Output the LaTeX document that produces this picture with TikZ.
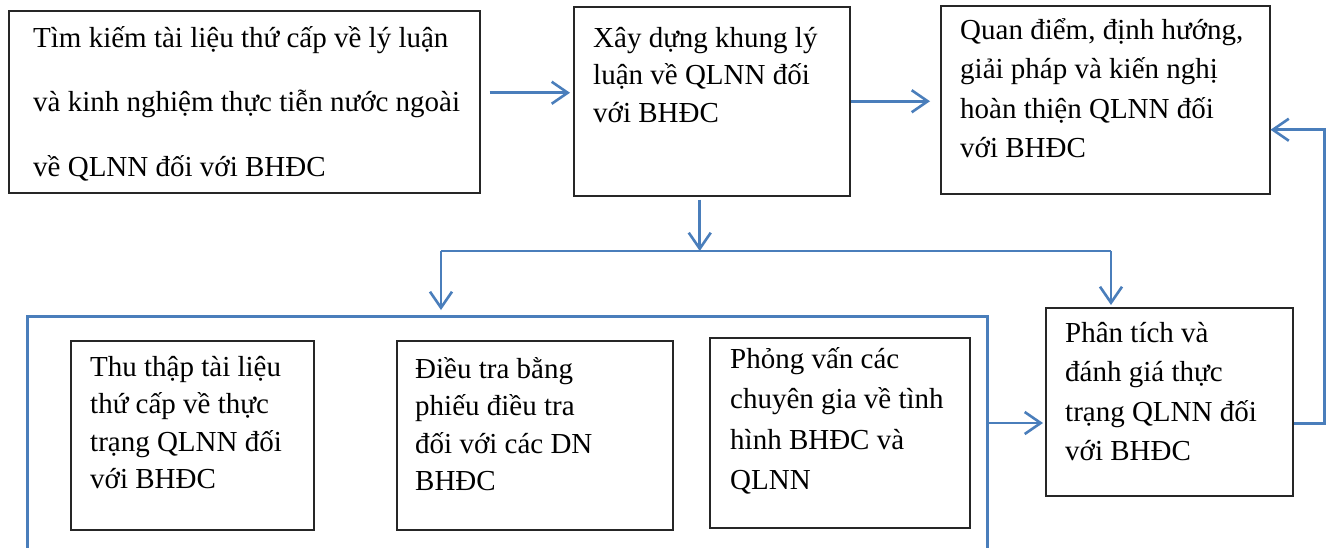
\documentclass[tikz,border=0pt]{standalone}
\usepackage{fontspec}
\setmainfont{Liberation Serif}
\usetikzlibrary{arrows.meta,calc}
\definecolor{flowblue}{RGB}{74,126,187}
\begin{document}
\begin{tikzpicture}[x=1pt,y=-1pt,
  box/.style={draw=black!85, line width=1.5pt, inner sep=0pt, anchor=north west},
  txt/.style={anchor=base west, align=left, inner sep=0pt, font=\fontsize{29}{37.5}\selectfont},
  flow/.style={draw=flowblue, line width=2.6pt},
  arr/.style={flow, -{Straight Barb[length=16pt,width=22pt]}}]
\clip (0,0) rectangle (1331,547);
\fill[white] (0,0) rectangle (1331,547);

% boxes
\node[box, minimum width=471pt, minimum height=182pt] (b1) at (8,10) {};
\node[box, minimum width=276pt, minimum height=189pt] (b2) at (573,6) {};
\node[box, minimum width=329pt, minimum height=188pt] (b3) at (940,5) {};
\node[box, minimum width=243pt, minimum height=189pt] (bA) at (70,340) {};
\node[box, minimum width=276pt, minimum height=189pt] (bB) at (396,340) {};
\node[box, minimum width=260pt, minimum height=190pt] (bC) at (709,337) {};
\node[box, minimum width=247pt, minimum height=188pt] (bP) at (1045,307) {};
% open frame around the three data-collection boxes
\node[box, draw=flowblue, line width=2.6pt, minimum width=960pt, minimum height=300pt] (ct) at (26,315) {};

% texts (anchored at the baseline of their last line)
\node[txt, font=\fontsize{29}{64.5}\selectfont] (t1) at (33,176) {Tìm kiếm tài liệu thứ cấp về lý luận\\và kinh nghiệm thực tiễn nước ngoài\\về QLNN đối với BHĐC};
\node[txt] (t2) at (593,122) {Xây dựng khung lý\\luận về QLNN đối\\với BHĐC};
\node[txt, font=\fontsize{29}{39.5}\selectfont] (t3) at (960,157.5) {Quan điểm, định hướng,\\giải pháp và kiến nghị\\hoàn thiện QLNN đối\\với BHĐC};
\node[txt] (tA) at (90,488.5) {Thu thập tài liệu\\thứ cấp về thực\\trạng QLNN đối\\với BHĐC};
\node[txt] (tB) at (415,490.5) {Điều tra bằng\\phiếu điều tra\\đối với các DN\\BHĐC};
\node[txt, font=\fontsize{29}{40.5}\selectfont] (tC) at (730,489.5) {Phỏng vấn các\\chuyên gia về tình\\hình BHĐC và\\QLNN};
\node[txt, font=\fontsize{29}{39.5}\selectfont] (tP) at (1065,460.5) {Phân tích và\\đánh giá thực\\trạng QLNN đối\\với BHĐC};

% connectors
\coordinate (jl) at (441,251);
\coordinate (jr) at (1111,251);
\draw[arr] ([shift={(9pt,9pt)}]b1.east) -- ([shift={(-3pt,9pt)}]b1.east -| b2.west);
\draw[arr] (b2.east) -- ([xshift=-10pt]b2.east -| b3.west);
\draw[arr] ([shift={(-12pt,-3pt)}]b2.south) -- ([xshift=-12pt]b2.south |- jl);
\draw[flow] (jl) -- (jr);
\draw[arr] (jl) -- ([yshift=5pt]jl |- ct.north);
\draw[arr] (jr) -- ([yshift=2pt]jr |- bP.north);
\draw[arr] ([yshift=-108pt]ct.north east) coordinate (ce) -- ([xshift=-2pt]ce -| bP.west);
\draw[arr] ([yshift=-22pt]bP.east) -- ++(31,0) |- ([yshift=-30pt]b3.east);
\end{tikzpicture}
\end{document}
